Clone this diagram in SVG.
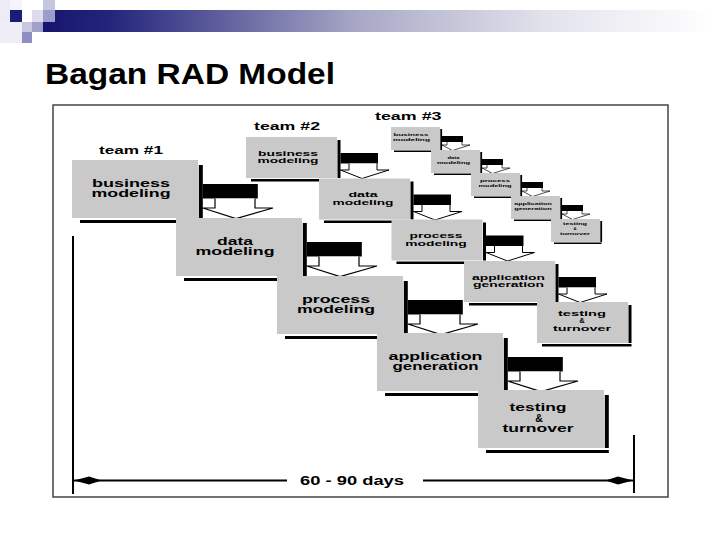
<svg xmlns="http://www.w3.org/2000/svg" xmlns:xlink="http://www.w3.org/1999/xlink" width="720" height="540" viewBox="0 0 720 540">
<style>
.bx{fill:#c9c9c9}
.sh{fill:#000}
.ol{fill:#fff;stroke:#000;stroke-width:1.2;stroke-linejoin:miter}
.olm{fill:#fff;stroke:#000;stroke-width:1}
.ols{fill:#fff;stroke:#000;stroke-width:0.7}
text{font-family:"Liberation Sans",Arial,sans-serif;font-weight:bold;fill:#000}
.t1{font-size:10.5px}
.t2{font-size:7.5px}
.t3{font-size:4.3px}
.tm{font-size:11px}
.mid{text-anchor:middle}
</style>
<defs>
<linearGradient id="hdr" gradientUnits="userSpaceOnUse" x1="43" y1="0" x2="712" y2="0">
<stop offset="0" stop-color="#16166e"/>
<stop offset="0.1" stop-color="#24247c"/>
<stop offset="0.47" stop-color="#a8a8c6"/>
<stop offset="0.75" stop-color="#e2e2ec"/>
<stop offset="1" stop-color="#ffffff"/>
</linearGradient>
<g id="conL">
<rect x="4.8" y="24" width="55" height="14.5" fill="#000"/>
<polyline class="ol" points="17,38.5 17,48 4.8,48 38,58.5 75,48 57,48 57,38.5"/>
</g>
<g id="conM">
<rect x="3.5" y="16" width="37.5" height="10.5" fill="#000"/>
<polyline class="olm" points="12,26.5 12,33 3.5,33 25,41.5 52,33 40,33 40,26.5"/>
</g>
<g id="conS">
<rect x="2" y="9" width="21" height="6" fill="#000"/>
<polyline class="ols" points="7,15 7,18 2,18 12.5,23.5 30,18 22,18 22,15"/>
</g>
<marker id="dh" markerUnits="userSpaceOnUse" markerWidth="28" markerHeight="10" viewBox="0 0 28 10" refX="26" refY="5" orient="auto-start-reverse">
<path d="M26,5 L11,1 L0,4.4 L0,5.6 L11,9 Z" fill="#000"/>
</marker>
</defs>
<rect width="720" height="540" fill="#fff"/>
<g id="header">
<rect x="0" y="0" width="10" height="43" fill="#ececf5"/>
<rect x="10" y="0" width="12" height="10" fill="#f4f4fa"/>
<rect x="0" y="22" width="22" height="21" fill="#eeeef6"/>
<rect x="43" y="10" width="669" height="22" fill="url(#hdr)"/>
<rect x="10" y="10" width="12" height="12" fill="#1c1c7a"/>
<rect x="43" y="0" width="12" height="10" fill="#c6c6de"/>
<rect x="32" y="10" width="11" height="12" fill="#dcdcec"/>
<rect x="43" y="10" width="12" height="12" fill="#9d9dc9"/>
<rect x="22" y="22" width="10" height="10" fill="#c8c8e2"/>
<rect x="32" y="22" width="11" height="10" fill="#a0a0c8"/>
<rect x="22" y="32" width="10" height="11" fill="#8e8ebe"/>
</g>
<text id="title" x="45" y="83.5" font-size="30" textLength="290" lengthAdjust="spacingAndGlyphs">Bagan RAD Model</text>
<rect id="frame" x="53" y="105" width="615" height="392" fill="none" stroke="#444" stroke-width="1.5"/>
<g id="labels">
<text class="tm" x="99" y="154" textLength="64" lengthAdjust="spacingAndGlyphs">team #1</text>
<text class="tm" x="254" y="130" textLength="66" lengthAdjust="spacingAndGlyphs">team #2</text>
<text class="tm" x="375" y="119.5" textLength="66.5" lengthAdjust="spacingAndGlyphs">team #3</text>
</g>
<g id="connectors">
<use xlink:href="#conL" x="198" y="160"/>
<use xlink:href="#conL" x="302" y="218"/>
<use xlink:href="#conL" x="403" y="276"/>
<use xlink:href="#conL" x="503" y="333"/>
<use xlink:href="#conM" x="337" y="137"/>
<use xlink:href="#conM" x="410" y="178.5"/>
<use xlink:href="#conM" x="482.5" y="219.5"/>
<use xlink:href="#conM" x="555" y="261"/>
<use xlink:href="#conS" x="440" y="127"/>
<use xlink:href="#conS" x="480" y="150"/>
<use xlink:href="#conS" x="520" y="173"/>
<use xlink:href="#conS" x="560" y="196"/>
<line x1="73" y1="236" x2="73" y2="494" stroke="#000" stroke-width="2"/>
<line x1="634" y1="435" x2="634" y2="493" stroke="#000" stroke-width="2"/>
<line x1="74" y1="480.5" x2="287" y2="480.5" stroke="#000" stroke-width="2" marker-start="url(#dh)"/>
<line x1="423" y1="480.5" x2="633" y2="480.5" stroke="#000" stroke-width="2" marker-end="url(#dh)"/>
</g>
<text id="duration" x="300" y="485" font-size="12" textLength="104" lengthAdjust="spacingAndGlyphs">60 - 90 days</text>
<g id="t1-business">
<rect class="sh" x="198.8" y="165" width="4" height="53"/>
<rect class="sh" x="80" y="220" width="122.8" height="3"/>
<rect class="bx" x="72" y="160" width="126" height="58"/>
<text class="t1" x="92" y="186.5" textLength="78" lengthAdjust="spacingAndGlyphs">business</text>
<text class="t1" x="91.5" y="197" textLength="79" lengthAdjust="spacingAndGlyphs">modeling</text>
</g>
<g id="t1-data">
<rect class="sh" x="302.8" y="223" width="4" height="53"/>
<rect class="sh" x="184" y="278" width="122.8" height="3"/>
<rect class="bx" x="176" y="218" width="126" height="58"/>
<text class="t1" x="217" y="244.5" textLength="36" lengthAdjust="spacingAndGlyphs">data</text>
<text class="t1" x="195.5" y="255" textLength="79" lengthAdjust="spacingAndGlyphs">modeling</text>
</g>
<g id="t1-process">
<rect class="sh" x="403.8" y="281" width="4" height="53"/>
<rect class="sh" x="285" y="336" width="122.8" height="3"/>
<rect class="bx" x="277" y="276" width="126" height="58"/>
<text class="t1" x="302" y="302.5" textLength="68" lengthAdjust="spacingAndGlyphs">process</text>
<text class="t1" x="297" y="313" textLength="78" lengthAdjust="spacingAndGlyphs">modeling</text>
</g>
<g id="t1-application">
<rect class="sh" x="503.8" y="338" width="4" height="53"/>
<rect class="sh" x="385" y="393" width="122.8" height="3"/>
<rect class="bx" x="377" y="333" width="126" height="58"/>
<text class="t1" x="388.5" y="359.5" textLength="94" lengthAdjust="spacingAndGlyphs">application</text>
<text class="t1" x="392.5" y="370" textLength="86" lengthAdjust="spacingAndGlyphs">generation</text>
</g>
<g id="t1-testing">
<rect class="sh" x="604.8" y="395" width="4" height="53"/>
<rect class="sh" x="486" y="450" width="122.8" height="3"/>
<rect class="bx" x="478" y="390" width="126" height="58"/>
<text class="t1" x="509.5" y="411" textLength="57" lengthAdjust="spacingAndGlyphs">testing</text>
<text class="t1 mid" x="539" y="421.5">&amp;</text>
<text class="t1" x="502.5" y="432" textLength="71" lengthAdjust="spacingAndGlyphs">turnover</text>
</g>
<g id="t2-business">
<rect class="sh" x="337.5" y="140" width="3" height="38"/>
<rect class="sh" x="251" y="179" width="89.5" height="2.5"/>
<rect class="bx" x="246" y="137" width="91" height="41"/>
<text class="t2" x="258" y="155.5" textLength="60" lengthAdjust="spacingAndGlyphs">business</text>
<text class="t2" x="257.5" y="163" textLength="61" lengthAdjust="spacingAndGlyphs">modeling</text>
</g>
<g id="t2-data">
<rect class="sh" x="410.5" y="181.5" width="3" height="38"/>
<rect class="sh" x="324" y="220.5" width="89.5" height="2.5"/>
<rect class="bx" x="319" y="178.5" width="91" height="41"/>
<text class="t2" x="348.5" y="197" textLength="29" lengthAdjust="spacingAndGlyphs">data</text>
<text class="t2" x="332.5" y="204.5" textLength="61" lengthAdjust="spacingAndGlyphs">modeling</text>
</g>
<g id="t2-process">
<rect class="sh" x="483" y="222.5" width="3" height="38"/>
<rect class="sh" x="396.5" y="261.5" width="89.5" height="2.5"/>
<rect class="bx" x="391.5" y="219.5" width="91" height="41"/>
<text class="t2" x="409.5" y="238" textLength="53" lengthAdjust="spacingAndGlyphs">process</text>
<text class="t2" x="405.25" y="245.5" textLength="61.5" lengthAdjust="spacingAndGlyphs">modeling</text>
</g>
<g id="t2-application">
<rect class="sh" x="555.5" y="264" width="3" height="38"/>
<rect class="sh" x="469" y="303" width="89.5" height="2.5"/>
<rect class="bx" x="464" y="261" width="91" height="41"/>
<text class="t2" x="472" y="279.5" textLength="73" lengthAdjust="spacingAndGlyphs">application</text>
<text class="t2" x="473" y="287" textLength="71" lengthAdjust="spacingAndGlyphs">generation</text>
</g>
<g id="t2-testing">
<rect class="sh" x="628.5" y="305" width="3" height="38"/>
<rect class="sh" x="542" y="344" width="89.5" height="2.5"/>
<rect class="bx" x="537" y="302" width="91" height="41"/>
<text class="t2" x="558" y="315.5" textLength="48" lengthAdjust="spacingAndGlyphs">testing</text>
<text class="t2 mid" x="582" y="323">&amp;</text>
<text class="t2" x="553" y="330.5" textLength="58" lengthAdjust="spacingAndGlyphs">turnover</text>
</g>
<g id="t3-business">
<rect class="sh" x="440.3" y="129" width="1.8" height="21"/>
<rect class="sh" x="394" y="150.5" width="47.5" height="1.5"/>
<rect class="bx" x="391" y="127" width="49" height="23"/>
<text class="t3" x="393.5" y="135.5" textLength="35" lengthAdjust="spacingAndGlyphs">business</text>
<text class="t3" x="393" y="140.5" textLength="37" lengthAdjust="spacingAndGlyphs">modeling</text>
</g>
<g id="t3-data">
<rect class="sh" x="480.3" y="152" width="1.8" height="21"/>
<rect class="sh" x="434" y="173.5" width="47.5" height="1.5"/>
<rect class="bx" x="431" y="150" width="49" height="23"/>
<text class="t3" x="447.5" y="158.5" textLength="12" lengthAdjust="spacingAndGlyphs">data</text>
<text class="t3" x="437" y="163.5" textLength="33" lengthAdjust="spacingAndGlyphs">modeling</text>
</g>
<g id="t3-process">
<rect class="sh" x="520.3" y="175" width="1.8" height="21"/>
<rect class="sh" x="474" y="196.5" width="47.5" height="1.5"/>
<rect class="bx" x="471" y="173" width="49" height="23"/>
<text class="t3" x="480" y="181.5" textLength="30" lengthAdjust="spacingAndGlyphs">process</text>
<text class="t3" x="478.5" y="186.5" textLength="33" lengthAdjust="spacingAndGlyphs">modeling</text>
</g>
<g id="t3-application">
<rect class="sh" x="560.3" y="198" width="1.8" height="21"/>
<rect class="sh" x="514" y="219.5" width="47.5" height="1.5"/>
<rect class="bx" x="511" y="196" width="49" height="23"/>
<text class="t3" x="514.25" y="204.5" textLength="37.5" lengthAdjust="spacingAndGlyphs">application</text>
<text class="t3" x="514.25" y="209.5" textLength="37.5" lengthAdjust="spacingAndGlyphs">generation</text>
</g>
<g id="t3-testing">
<rect class="sh" x="600.3" y="221" width="1.8" height="21"/>
<rect class="sh" x="554" y="242.5" width="47.5" height="1.5"/>
<rect class="bx" x="551" y="219" width="49" height="23"/>
<text class="t3" x="563" y="225" textLength="24" lengthAdjust="spacingAndGlyphs">testing</text>
<text class="t3 mid" x="575" y="229.8">&amp;</text>
<text class="t3" x="560" y="234.6" textLength="30" lengthAdjust="spacingAndGlyphs">turnover</text>
</g>
</svg>
